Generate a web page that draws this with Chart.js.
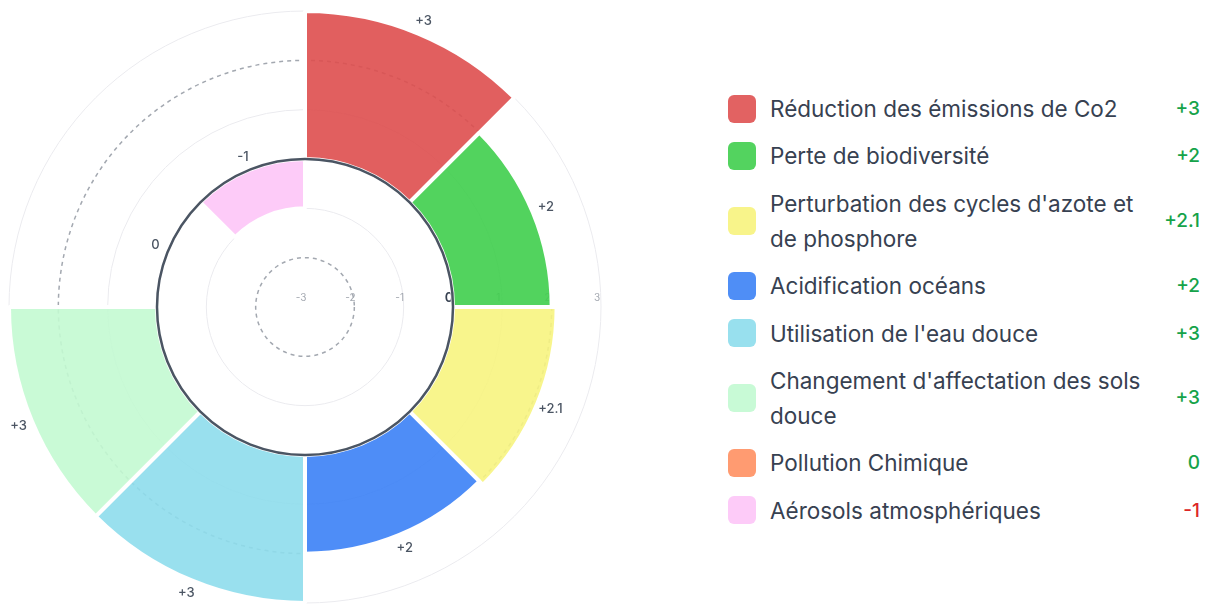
<!DOCTYPE html>
<html>
<head>
<meta charset="utf-8">
<script src="https://cdn.jsdelivr.net/npm/chart.js@4.4.1/dist/chart.umd.min.js"></script>
<style>
  body { margin: 0; background: #fff; font-family: Inter, sans-serif; }
  #wrap { position: absolute; left: 0; top: 0; width: 610px; height: 606px; }
  #legend { position: absolute; left: 728px; top: 91px; width: 472px; }
  .row { display: flex; align-items: center; margin-bottom: 12.4px; }
  .sw { width: 28px; height: 28px; border-radius: 6px; flex: none; margin-right: 14px; }
  .lbl { flex: none; width: 392px; font-size: 22.5px; line-height: 35px; color: #374151; }
  .val { flex: 1; font-size: 19px; font-weight: 500; text-align: right; }
</style>
</head>
<body>
<div id="wrap"><canvas id="chart"></canvas></div>
<div id="legend"></div>
<script>
const categories = [
  'Réduction des émissions de Co2',
  'Perte de biodiversité',
  "Perturbation des cycles d'azote et de phosphore",
  'Acidification océans',
  "Utilisation de l'eau douce",
  "Changement d'affectation des sols douce",
  'Pollution Chimique',
  'Aérosols atmosphériques'
];
const scores = [3, 2, 2.1, 2, 3, 3, 0, -1];
const tickLabels = [-3, -2, -1, 0, 1, 2, 3];
const fills = [
  'rgba(222, 78, 78, 0.9)',
  'rgba(63, 206, 76, 0.9)',
  'rgba(247, 244, 127, 0.9)',
  'rgba(59, 129, 246, 0.9)',
  'rgba(142, 221, 236, 0.9)',
  'rgba(195, 250, 210, 0.9)',
  'rgba(255, 144, 97, 0.9)',
  'rgba(253, 197, 247, 0.9)'
];
const swatches = ['#e26262', '#53d35f', '#f8f48a', '#4f8ef6', '#98e0ee', '#c8fad6', '#ff9b71', '#fdcbf8'];

const fmt = v => (v > 0 ? '+' + v : String(v));

// legend
const legend = document.getElementById('legend');
categories.forEach((name, i) => {
  const row = document.createElement('div');
  row.className = 'row';
  row.innerHTML =
    '<span class="sw" style="background:' + swatches[i] + '"></span>' +
    '<span class="lbl"></span>' +
    '<span class="val" style="color:' + (scores[i] < 0 ? '#dc2626' : '#16a34a') + '">' + fmt(scores[i]) + '</span>';
  row.querySelector('.lbl').textContent = name;
  legend.appendChild(row);
});

// arcs grow outward/inward from the 0 ring instead of the centre
const zeroBase = {
  id: 'zeroBase',
  beforeDatasetsDraw(chart) {
    const r = chart.scales.r;
    const ctx = chart.ctx;
    ctx.save();
    ctx.textAlign = 'center';
    ctx.textBaseline = 'middle';
    tickLabels.forEach(v => {
      const d = r.getDistanceFromCenterForValue(v);
      ctx.font = v === 0 ? '600 13px Inter' : '10px Inter';
      ctx.fillStyle = v === 0 ? '#374151' : '#a3a8b0';
      ctx.fillText(String(v), r.xCenter + d - 4, r.yCenter - 9);
    });
    ctx.restore();

    const base = r.getDistanceFromCenterForValue(0);
    chart.getDatasetMeta(0).data.forEach((arc, i) => {
      const d = r.getDistanceFromCenterForValue(scores[i]);
      arc.innerRadius = Math.min(base, d);
      arc.outerRadius = Math.max(base, d);
    });
  },
  afterDatasetsDraw(chart) {
    const r = chart.scales.r;
    const ctx = chart.ctx;
    const base = r.getDistanceFromCenterForValue(0);
    ctx.save();
    ctx.beginPath();
    ctx.arc(r.xCenter, r.yCenter, base, 0, Math.PI * 2);
    ctx.strokeStyle = '#4b5563';
    ctx.lineWidth = 2.5;
    ctx.stroke();

    ctx.font = '500 13px Inter';
    ctx.fillStyle = '#4b5563';
    ctx.textAlign = 'center';
    ctx.textBaseline = 'middle';
    chart.getDatasetMeta(0).data.forEach((arc, i) => {
      const mid = (arc.startAngle + arc.endAngle) / 2;
      const dist = arc.outerRadius + 14;
      ctx.fillText(fmt(scores[i]), r.xCenter + Math.cos(mid) * dist, r.yCenter + Math.sin(mid) * dist);
    });
    ctx.restore();
  }
};

new Chart(document.getElementById('chart'), {
  type: 'polarArea',
  data: {
    labels: categories,
    datasets: [{
      data: scores,
      backgroundColor: fills,
      borderColor: '#ffffff',
      borderWidth: ctx => (scores[ctx.dataIndex] === 0 ? 0 : 4)
    }]
  },
  options: {
    responsive: true,
    maintainAspectRatio: false,
    animation: false,
    events: [],
    layout: { padding: { left: 9, right: 9, top: 11, bottom: 3 } },
    plugins: {
      legend: { display: false },
      tooltip: { enabled: false }
    },
    scales: {
      r: {
        min: -3,
        max: 3,
        ticks: { display: false, stepSize: 1 },
        grid: {
          circular: true,
          color: ctx => {
            const v = ctx.tick.value;
            if (v === 0) return '#4b5563';
            if (Math.abs(v) === 2) return '#a3a8b0';
            return '#ebebef';
          },
          lineWidth: ctx => (Math.abs(ctx.tick.value) === 2 ? 1.5 : 1)
        },
        border: {
          dash: ctx => (Math.abs(ctx.tick.value) === 2 ? [4, 4] : [])
        },
        angleLines: { display: false },
        pointLabels: { display: false }
      }
    }
  },
  plugins: [zeroBase]
});
</script>
</body>
</html>
